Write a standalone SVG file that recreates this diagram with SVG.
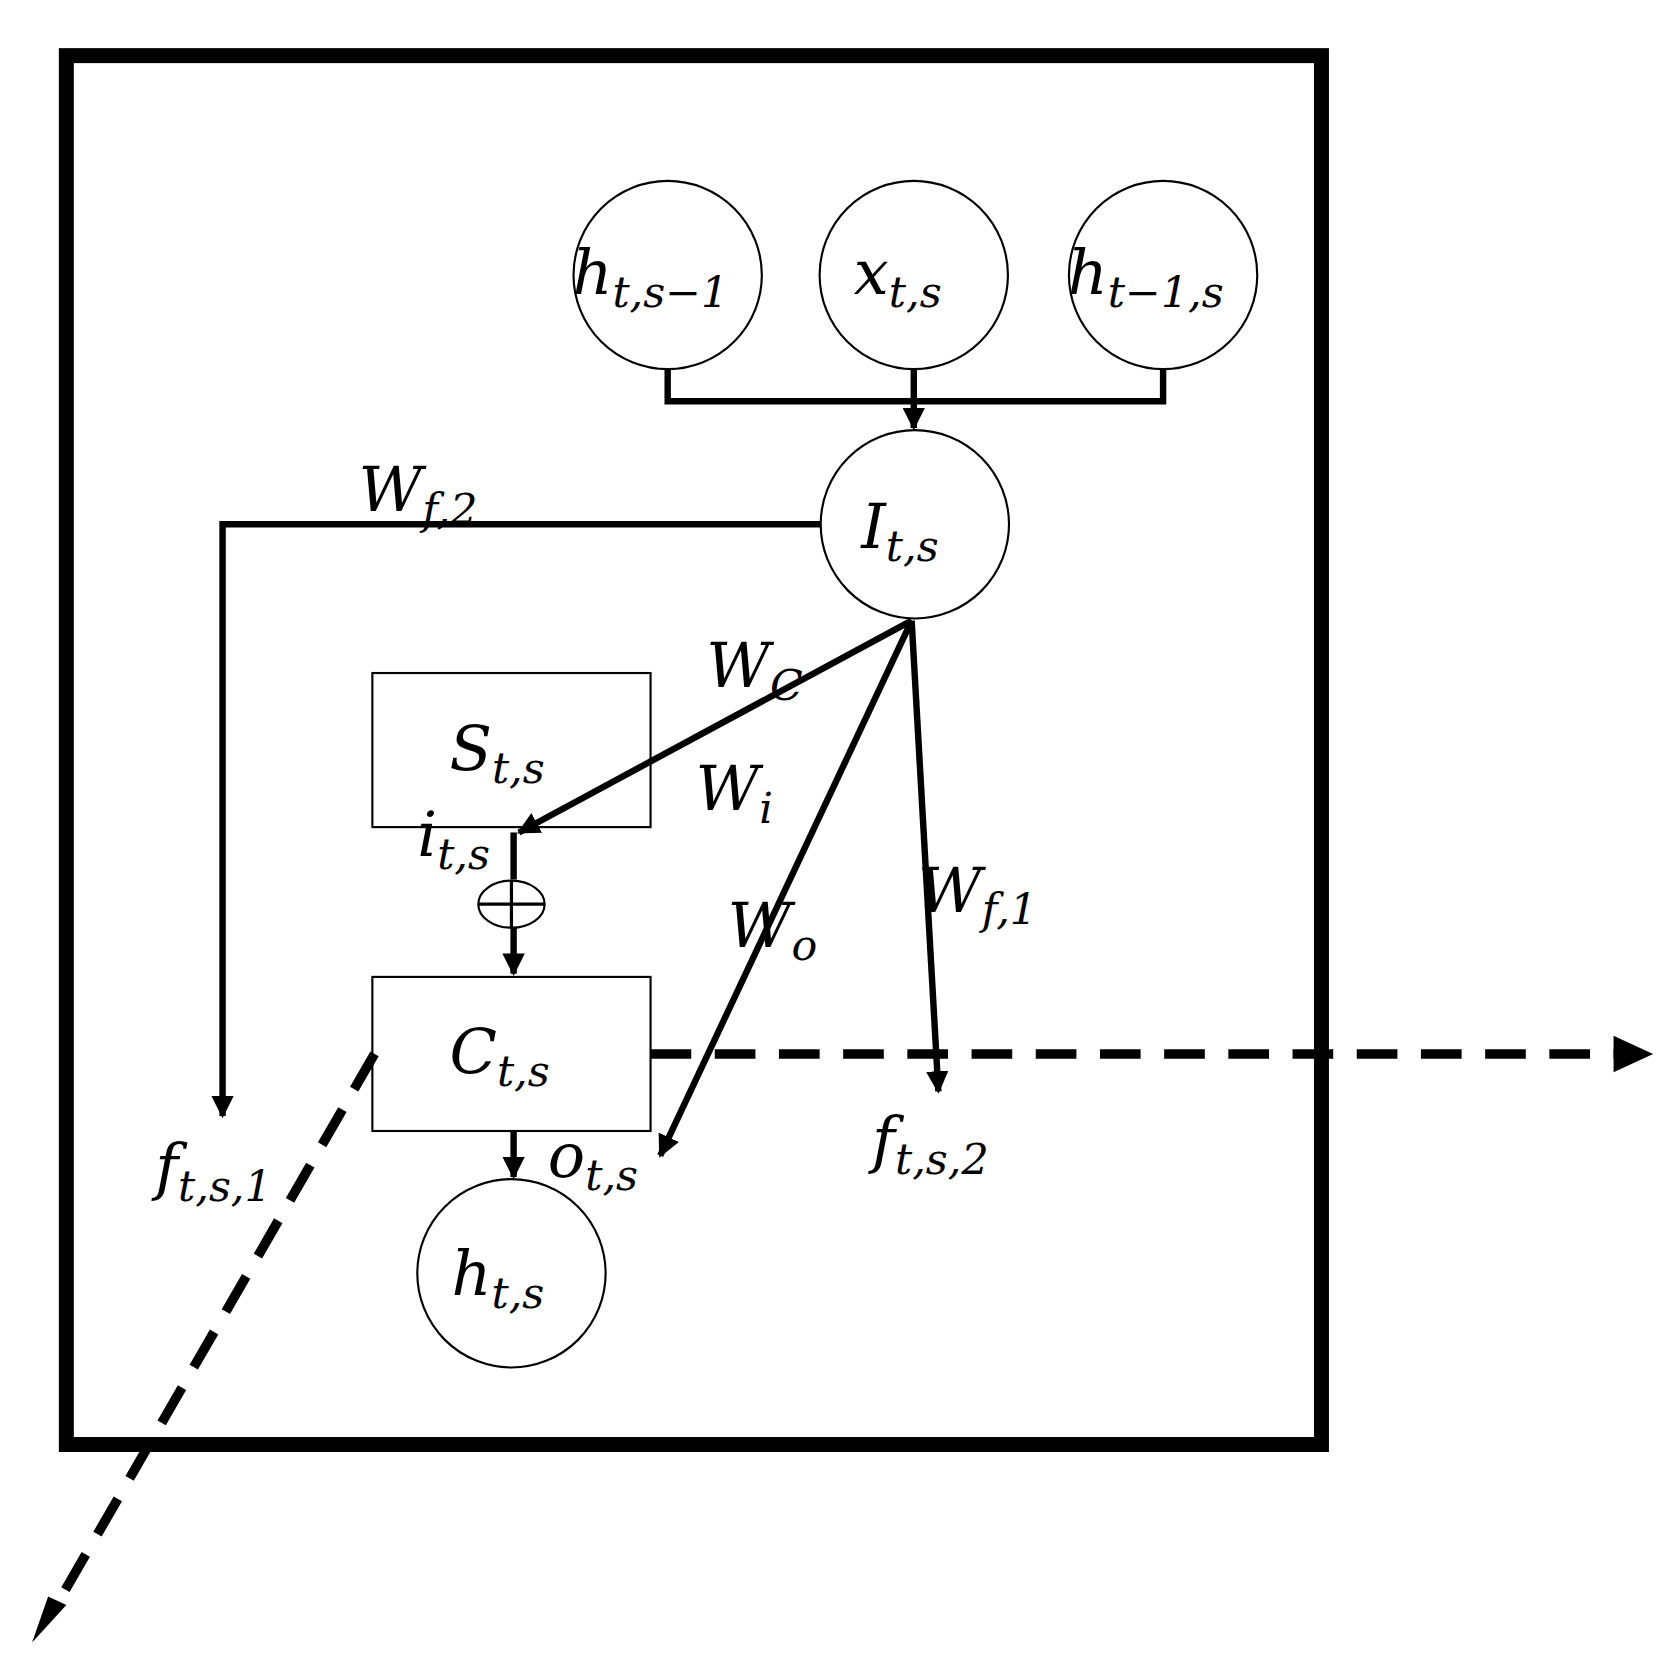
<svg xmlns="http://www.w3.org/2000/svg" width="1669" height="1665" viewBox="0 0 1669 1665">
<style>
.n{fill:#fff;stroke:#000;stroke-width:2}
.c{fill:none;stroke:#000;stroke-width:6}
.d{fill:none;stroke:#000;stroke-width:9;stroke-dasharray:38 22}
text{font-family:"DejaVu Serif","Liberation Serif",serif;font-style:italic;fill:#000}
.m{font-size:58px}
.s{font-size:40px}
</style>
<defs>
<marker id="a" viewBox="0 0 10 10" refX="9" refY="5" markerWidth="3.5" markerHeight="3.5" orient="auto"><path d="M0,0L10,5L0,10z"/></marker>
</defs>
<rect width="1669" height="1665" fill="#fff"/>
<g transform="scale(1.07)">
<rect id="frame" x="62" y="52" width="1173" height="1298" fill="none" stroke="#000" stroke-width="14"/>
<g id="n1"><circle class="n" cx="624" cy="257" r="88"/><text x="535" y="275" class="m">h<tspan class="s" dy="12">t,s−1</tspan></text></g>
<g id="n2"><circle class="n" cx="854" cy="257" r="88"/><text x="798" y="275" class="m">x<tspan class="s" dy="12">t,s</tspan></text></g>
<g id="n3"><circle class="n" cx="1087" cy="257" r="88"/><text x="998" y="275" class="m">h<tspan class="s" dy="12">t−1,s</tspan></text></g>
<g id="nI"><circle class="n" cx="855" cy="490" r="88"/><text x="805" y="512" class="m">I<tspan class="s" dy="12">t,s</tspan></text></g>
<g id="nS"><rect class="n" x="348" y="629" width="260" height="144"/><text x="420" y="720" class="m">S<tspan class="s" dy="12">t,s</tspan></text></g>
<g id="nC"><rect class="n" x="348" y="913" width="260" height="144"/><text x="420" y="1003" class="m">C<tspan class="s" dy="12">t,s</tspan></text></g>
<g id="nP"><ellipse class="n" cx="478" cy="845" rx="31" ry="22" stroke-width="3"/><path d="M447,845H509M478,823V867" stroke="#000" stroke-width="3"/></g>
<g id="nh"><circle class="n" cx="478" cy="1190" r="88"/><text x="422" y="1210" class="m">h<tspan class="s" dy="12">t,s</tspan></text></g>
<g id="connectors">
<path class="c" d="M624,345V375H1087V345M854,345V400" marker-end="url(#a)"/>
<path class="c" d="M767,490H208V1043" marker-end="url(#a)"/>
<path class="c" d="M852,580L485,778" marker-end="url(#a)"/>
<path class="c" d="M852,580L617,1080" marker-end="url(#a)"/>
<path class="c" d="M852,580L877,1020" marker-end="url(#a)"/>
<path class="c" d="M480,778V822"/>
<path class="c" d="M480,867V910" marker-end="url(#a)"/>
<path class="c" d="M480,1057V1100" marker-end="url(#a)"/>
<path class="d" d="M608,985H1520"/>
<path d="M1508,968L1545,985L1508,1002z"/>
<path class="d" d="M350,985L50,1505"/>
<path d="M30,1535L62,1500L45,1492z"/>
</g>
<g id="labels">
<text x="335" y="478" class="m">W<tspan class="s" dy="12">f,2</tspan></text>
<text x="660" y="642" class="m">W<tspan class="s" dy="12">C</tspan></text>
<text x="650" y="757" class="m">W<tspan class="s" dy="12">i</tspan></text>
<text x="680" y="885" class="m">W<tspan class="s" dy="12">o</tspan></text>
<text x="858" y="852" class="m">W<tspan class="s" dy="12">f,1</tspan></text>
<text x="390" y="800" class="m">i<tspan class="s" dy="12">t,s</tspan></text>
<text x="512" y="1100" class="m">o<tspan class="s" dy="12">t,s</tspan></text>
<text x="145" y="1110" class="m">f<tspan class="s" dy="12">t,s,1</tspan></text>
<text x="815" y="1085" class="m">f<tspan class="s" dy="12">t,s,2</tspan></text>
</g>
</g>
</svg>
